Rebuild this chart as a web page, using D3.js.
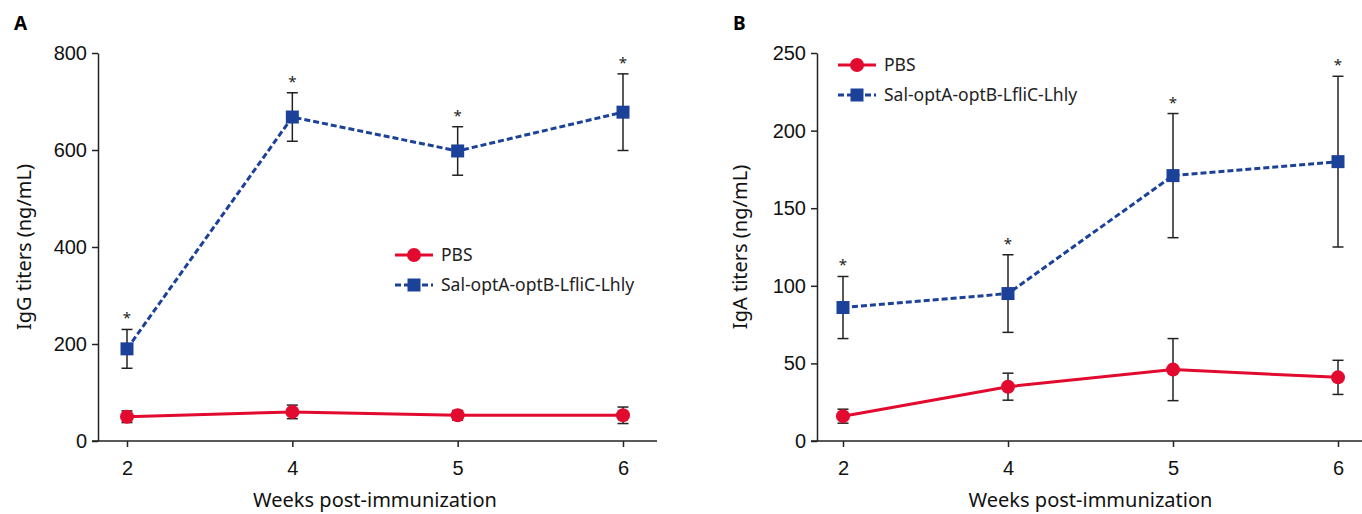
<!DOCTYPE html>
<html>
<head>
<meta charset="utf-8">
<script src="https://cdn.jsdelivr.net/npm/d3@7"></script>
<style>
  body { margin: 0; background: #fff; }
  svg { display: block; font-family: "Noto Sans", sans-serif; }
</style>
</head>
<body>
<div id="container"></div>
<script>
// week labels shared by both panels
const weeks = ["2", "4", "5", "6"];

// panel A: IgG (ng/mL), mean and error
const iggPbs = [50, 60, 53, 53];
const iggPbsErr = [12, 14, 10, 17];
const iggSal = [190, 668, 598, 678];
const iggSalErr = [40, 50, 50, 79];
const iggTicks = [0, 200, 400, 600, 800];

// panel B: IgA (ng/mL), mean and error
const igaPbs = [16, 35, 46, 41];
const igaPbsErr = [4.5, 8.7, 20, 11];
const igaSal = [86, 95, 171, 180];
const igaSalErr = [20, 25, 40, 55];
const igaTicks = [0, 50, 100, 150, 200, 250];

const seriesNames = ["PBS", "Sal-optA-optB-LfliC-Lhly"];
const RED = "#e20a2f";
const BLUE = "#1c4199";

const svg = d3.select("#container").append("svg")
    .attr("width", 1362)
    .attr("height", 514);

function drawPanel(opt) {
    const g = svg.append("g");

    const x = d3.scalePoint().domain(weeks).range(opt.xRange);
    const y = d3.scaleLinear().domain([0, opt.yMax]).range([441, 53]);

    // axes
    const yAxis = g.append("g")
        .attr("transform", `translate(${opt.axisX},0)`)
        .call(d3.axisLeft(y).tickValues(opt.ticks).tickSize(6).tickSizeOuter(0).tickPadding(5));
    const xAxis = g.append("g")
        .attr("transform", `translate(0,${y(0)})`)
        .call(d3.axisBottom(x).tickSize(6).tickSizeOuter(0).tickPadding(14));
    xAxis.select(".domain").remove();
    g.append("line")
        .attr("x1", opt.axisX - 6).attr("x2", opt.xEnd)
        .attr("y1", y(0)).attr("y2", y(0))
        .attr("stroke", "#222").attr("stroke-width", 1.5);

    [yAxis, xAxis].forEach(a => {
        a.selectAll("path, line").attr("stroke", "#222").attr("stroke-width", 1.5);
        a.selectAll("text").attr("fill", "#111").style("font-size", "20px");
    });

    // titles
    g.append("text")
        .attr("x", (opt.xRange[0] + opt.xRange[1]) / 2)
        .attr("y", 507)
        .attr("text-anchor", "middle")
        .style("font-size", "20px")
        .attr("fill", "#111")
        .text("Weeks post-immunization");
    g.append("text")
        .attr("transform", `translate(${opt.titleX},247) rotate(-90)`)
        .attr("text-anchor", "middle")
        .style("font-size", "20px")
        .attr("fill", "#111")
        .text(opt.yTitle);
    g.append("text")
        .attr("x", opt.labelX).attr("y", 30)
        .style("font-size", "19px")
        .style("font-weight", "bold")
        .text(opt.label);

    const series = [
        { vals: opt.pbs, err: opt.pbsErr, color: RED, dash: null, shape: "circle", star: false },
        { vals: opt.sal, err: opt.salErr, color: BLUE, dash: "6,3", shape: "square", star: true }
    ];

    // error bars
    series.forEach(s => {
        s.vals.forEach((v, i) => {
            const cx = x(weeks[i]);
            const top = y(v + s.err[i]), bot = y(v - s.err[i]);
            g.append("line").attr("x1", cx).attr("x2", cx).attr("y1", top).attr("y2", bot)
                .attr("stroke", "#222").attr("stroke-width", 1.5);
            [top, bot].forEach(yy => g.append("line")
                .attr("x1", cx - 5.5).attr("x2", cx + 5.5).attr("y1", yy).attr("y2", yy)
                .attr("stroke", "#222").attr("stroke-width", 1.5));
            if (s.star) {
                g.append("text")
                    .attr("x", cx).attr("y", top - 6)
                    .attr("text-anchor", "middle")
                    .style("font-size", "15px")
                    .attr("fill", "#222")
                    .text("*");
            }
        });
    });

    // lines and markers
    const line = d3.line().x((d, i) => x(weeks[i])).y(d => y(d));
    series.forEach(s => {
        g.append("path")
            .datum(s.vals)
            .attr("d", line)
            .attr("fill", "none")
            .attr("stroke", s.color)
            .attr("stroke-width", 3)
            .attr("stroke-dasharray", s.dash);
        s.vals.forEach((v, i) => drawMarker(g, s.shape, x(weeks[i]), y(v), s.color));
    });

    // legend
    series.forEach((s, i) => {
        const ly = opt.legendY + i * 30;
        g.append("line")
            .attr("x1", opt.legendX).attr("x2", opt.legendX + 38)
            .attr("y1", ly).attr("y2", ly)
            .attr("stroke", s.color).attr("stroke-width", 3)
            .attr("stroke-dasharray", s.dash);
        drawMarker(g, s.shape, opt.legendX + 19, ly, s.color);
        g.append("text")
            .attr("x", opt.legendX + 46).attr("y", ly)
            .attr("dy", "0.35em")
            .style("font-size", "17.5px")
            .attr("fill", "#222")
            .text(seriesNames[i]);
    });
}

function drawMarker(g, shape, cx, cy, color) {
    if (shape === "circle") {
        g.append("circle").attr("cx", cx).attr("cy", cy).attr("r", 7).attr("fill", color);
    } else {
        g.append("rect").attr("x", cx - 6.5).attr("y", cy - 6.5)
            .attr("width", 13).attr("height", 13).attr("fill", color);
    }
}

drawPanel({
    label: "A", labelX: 14, axisX: 98, xRange: [127, 623], xEnd: 657,
    yMax: 800, ticks: iggTicks, yTitle: "IgG titers (ng/mL)", titleX: 31,
    pbs: iggPbs, pbsErr: iggPbsErr, sal: iggSal, salErr: iggSalErr,
    legendX: 395, legendY: 255
});

drawPanel({
    label: "B", labelX: 733, axisX: 817, xRange: [843, 1338], xEnd: 1362,
    yMax: 250, ticks: igaTicks, yTitle: "IgA titers (ng/mL)", titleX: 747,
    pbs: igaPbs, pbsErr: igaPbsErr, sal: igaSal, salErr: igaSalErr,
    legendX: 838, legendY: 65
});
</script>
</body>
</html>
